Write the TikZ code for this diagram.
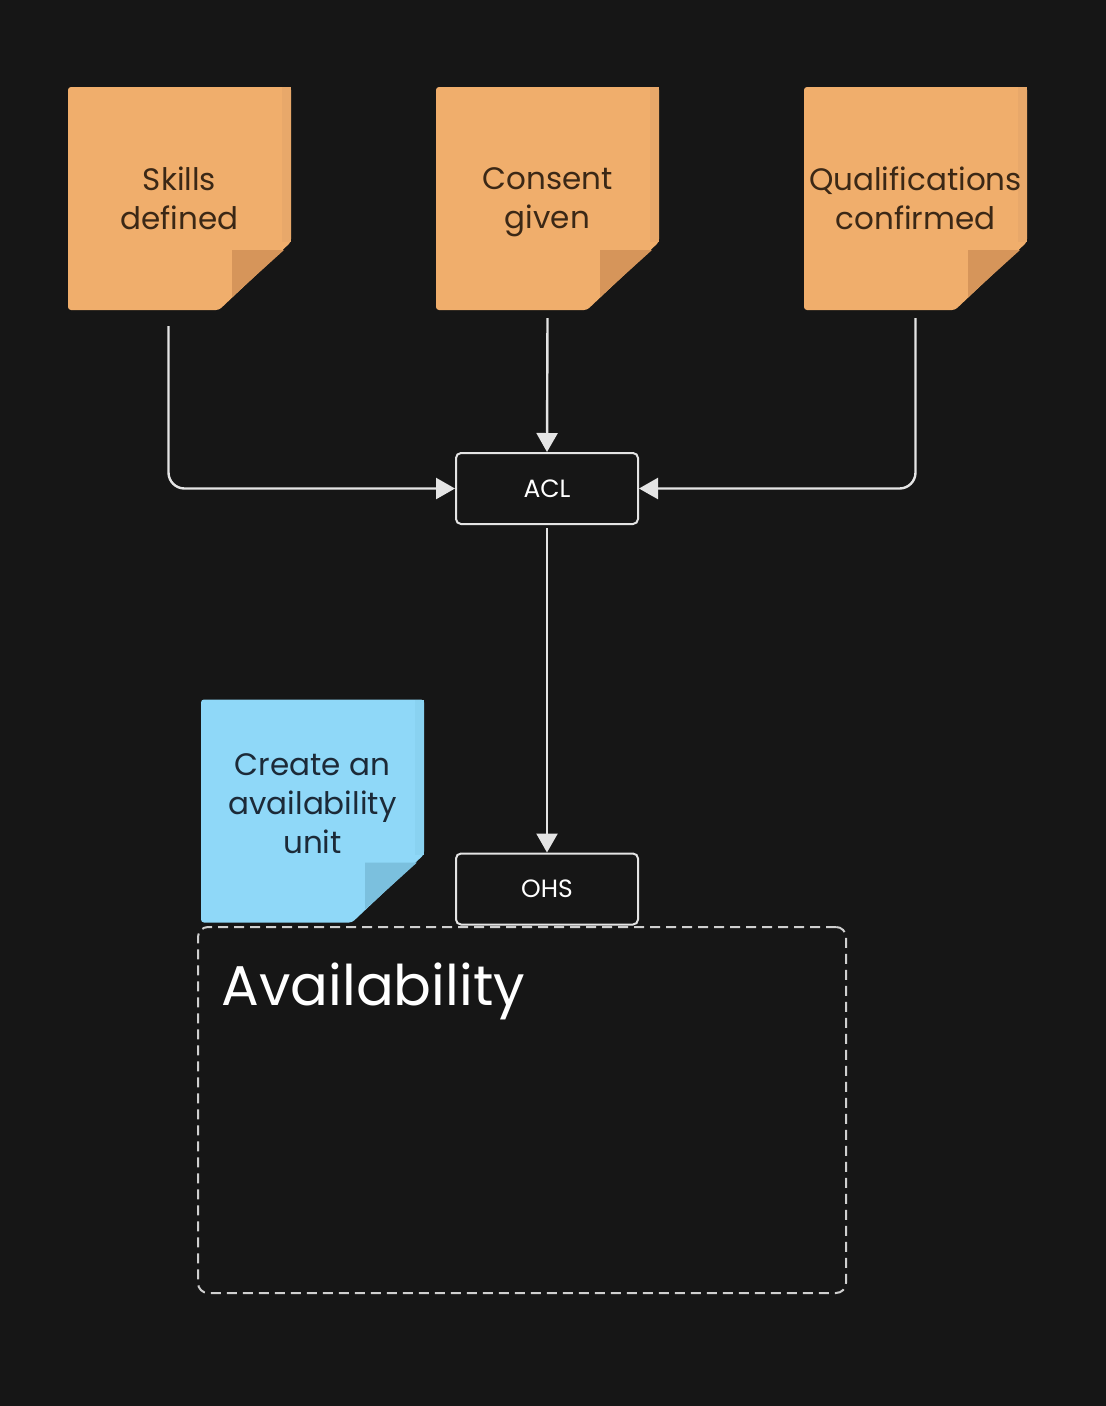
\documentclass[tikz,border=0pt]{standalone}
\usepackage{fontspec}
\setmainfont{Poppins}
\usepackage{tikz}
\usetikzlibrary{arrows.meta,positioning,calc}

\definecolor{bgdark}{HTML}{161616}
\definecolor{noteorange}{HTML}{F0AE6C}
\definecolor{foldorange}{HTML}{D6955A}
\definecolor{edgeorange}{HTML}{E8A86A}
\definecolor{noteblue}{HTML}{8FD8F8}
\definecolor{foldblue}{HTML}{7BC0DE}
\definecolor{edgeblue}{HTML}{89D2F1}
\definecolor{browntext}{HTML}{3B2816}
\definecolor{navytext}{HTML}{1C2A38}
\definecolor{linegray}{HTML}{E4E4E4}
\definecolor{dashgray}{HTML}{CFCFCF}

\begin{document}
\begin{tikzpicture}[
    x=1pt, y=-1pt,
    sticky/.style n args={4}{minimum width=223pt, minimum height=223pt, inner sep=0pt,
        align=center, text=#4, text depth=0pt, font=\fontsize{31}{39}\selectfont,
        path picture={
            \fill[#1, rounded corners=3pt] (path picture bounding box.north west)
                -- (path picture bounding box.north east)
                -- ([yshift=68pt]path picture bounding box.south east)
                -- ([xshift=-72pt]path picture bounding box.south east)
                -- (path picture bounding box.south west) -- cycle;
            \fill[#3] ([xshift=-9pt]path picture bounding box.north east)
                rectangle ([yshift=68pt]path picture bounding box.south east);
            \fill[#2] ([xshift=-59pt,yshift=60pt]path picture bounding box.south east)
                -- ([xshift=-7pt,yshift=60pt]path picture bounding box.south east)
                -- ([xshift=-59pt,yshift=13pt]path picture bounding box.south east) -- cycle;
        }},
    orangenote/.style={sticky={noteorange}{foldorange}{edgeorange}{browntext}},
    bluenote/.style={sticky={noteblue}{foldblue}{edgeblue}{navytext}, text depth=14pt},
    service/.style={draw=linegray, line width=2pt, rounded corners=5pt, fill=bgdark,
        minimum width=182pt, minimum height=71pt, inner sep=0pt, text=white,
        font=\fontsize{25}{30}\selectfont},
    link/.style={draw=linegray, line width=2.4pt, rounded corners=16pt,
        -{Triangle[length=19pt,width=21pt]}},
    groupbox/.style={draw=dashgray, line width=2pt, dash pattern=on 10pt off 6pt,
        rounded corners=10pt, minimum width=648pt, minimum height=366pt, inner sep=0pt}
]
% Background
\fill[bgdark] (0,0) rectangle (1106,1406);
% Events
\node[orangenote] (skills) at (179.5,198.5) {Skills\\defined};
\node[orangenote] (consent) at (547.5,198.5) {Consent\\given};
\node[orangenote] (qual) at (915.5,198.5) {Qualifications\\confirmed};
% Bounded context
\node[groupbox] (avail) at (522,1110) {};
\node[anchor=base west, text=white, font=\fontsize{56}{62}\selectfont] (availtitle) at (218,1005) {Availability};
% Command
\node[bluenote] (create) at (312.5,811) {Create an\\availability\\unit};
% Translation layers
\node[service] (acl) at (547,488.5) {ACL};
\node[service] (ohs) at (547,889) {OHS};
% Flows
\draw[link] ([xshift=-11pt,yshift=-16pt]skills.south) |- (acl.west);
\draw[link] ([yshift=-8pt]consent.south) -- (acl.north);
\draw[link] ([yshift=-8pt]qual.south) |- (acl.east);
\draw[link] ([yshift=-3pt]acl.south) -- (ohs.north);
\end{tikzpicture}
\end{document}
